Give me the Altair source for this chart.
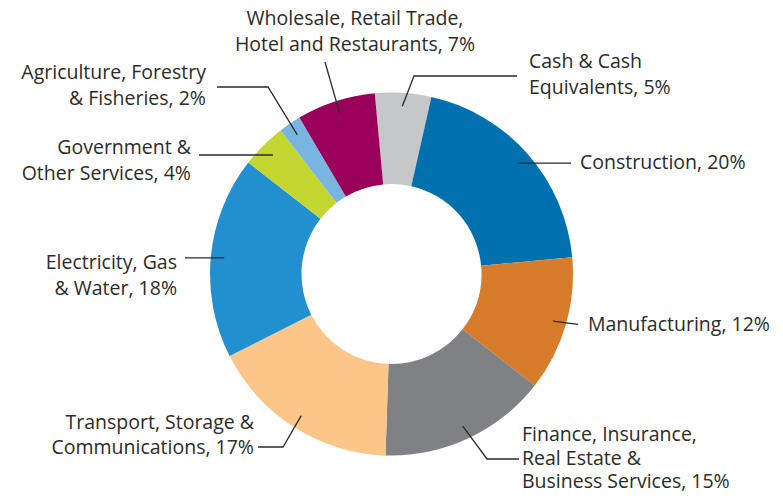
import math
import altair as alt
import pandas as pd

# ---- data ----
categories = [
    "Cash & Cash Equivalents", "Construction", "Manufacturing",
    "Finance, Insurance, Real Estate & Business Services",
    "Transport, Storage & Communications", "Electricity, Gas & Water",
    "Government & Other Services", "Agriculture, Forestry & Fisheries",
    "Wholesale, Retail Trade, Hotel and Restaurants",
]
values = [5, 20, 12, 15, 17, 18, 4, 2, 7]
colors = ["#c6c7c9", "#0071ae", "#d77c2b", "#808184", "#fbc688",
          "#2290cf", "#c4d630", "#7ab5e2", "#9a0059"]
label_texts = [
    "Cash & Cash\nEquivalents, 5%",
    "Construction, 20%",
    "Manufacturing, 12%",
    "Finance, Insurance,\nReal Estate &\nBusiness Services, 15%",
    "Transport, Storage &\nCommunications, 17%",
    "Electricity, Gas\n& Water, 18%",
    "Government &\nOther Services, 4%",
    "Agriculture, Forestry\n& Fisheries, 2%",
    "Wholesale, Retail Trade,\nHotel and Restaurants, 7%",
]

# ---- layout (chart pixel space) ----
W, H = 767, 487
CX, CY = 383.5, 266.0
R_OUT, R_IN = 181.5, 90.0
R_LEAD = 168.0
START_DEG = -5.3
# label anchor (first line): (x, y, align); leader: intermediate points after the start
label_pos = [
    (521, 54, "left"), (572, 155, "left"), (580, 317, "left"),
    (514, 427, "left"), (246, 415, "right"), (169, 255, "right"),
    (183, 140, "right"), (198, 65, "right"), (347, 11, "center"),
]
leader_mid = [
    [(406, 68), (509, 68)], [("h", 563)], [(570, 316.3)],
    [(479, 451), (511, 451)], [(275, 439), (250, 439)],
    [("h", 177)], [("h", 191)], [(260, 79), (209, 79)], [(317, 54)],
]
line_heights = [25.5, 25.5, 25.5, 23.5, 25, 25.5, 25.5, 25.5, 25.5]

total = sum(values)
rows, lines = [], []
cum = 0
for i, (c, v) in enumerate(zip(categories, values)):
    mid = START_DEG + 360 * (cum + v / 2) / total
    cum += v
    a = math.radians(mid)
    sx, sy = CX + R_LEAD * math.sin(a), CY - R_LEAD * math.cos(a)
    pts = [(sx, sy)]
    for p in leader_mid[i]:
        if p[0] == "h":
            pts.append((p[1], sy))
        else:
            pts.append(p)
    for k, (px, py) in enumerate(pts):
        lines.append({"cat": c, "k": k, "px": px, "py": py})
    lx, ly, al = label_pos[i]
    rows.append({"cat": c, "value": v, "order": i, "label": label_texts[i],
                 "lx": lx, "ly": ly, "align": al, "lh": line_heights[i]})

df = pd.DataFrame(rows)
ldf = pd.DataFrame(lines)

off = 2 * math.pi + math.radians(START_DEG)
arc = alt.Chart(df).mark_arc(radius=R_OUT, radius2=R_IN).encode(
    theta=alt.Theta("value:Q", stack=True,
                    scale=alt.Scale(range=[off, off + 2 * math.pi])),
    order=alt.Order("order:Q"),
    color=alt.Color("cat:N", scale=alt.Scale(domain=categories, range=colors), legend=None),
    x=alt.value(CX), y=alt.value(CY),
)

lead = alt.Chart(ldf).mark_line(color="#2a2a2a", strokeWidth=1.3).encode(
    x=alt.X("px:Q", scale=None, axis=None),
    y=alt.Y("py:Q", scale=None, axis=None),
    detail="cat:N",
    order="k:Q",
)

texts = []
for al in ["left", "right", "center"]:
    for lh in sorted(set(line_heights)):
        sub = df[(df["align"] == al) & (df["lh"] == lh)]
        if len(sub) == 0:
            continue
        texts.append(
            alt.Chart(sub).mark_text(
                align=al, baseline="middle", lineBreak="\n", lineHeight=lh,
                font="Open Sans", fontSize=19.5, color="#2b2b2b",
            ).encode(
                x=alt.X("lx:Q", scale=None, axis=None),
                y=alt.Y("ly:Q", scale=None, axis=None),
                text="label:N",
            )
        )

chart = alt.layer(arc, lead, *texts).properties(
    width=W, height=H, padding=0,
    autosize=alt.AutoSizeParams(type="none"),
).configure_view(stroke=None)

chart.save("out.html", embed_options={"renderer": "svg", "actions": False})
